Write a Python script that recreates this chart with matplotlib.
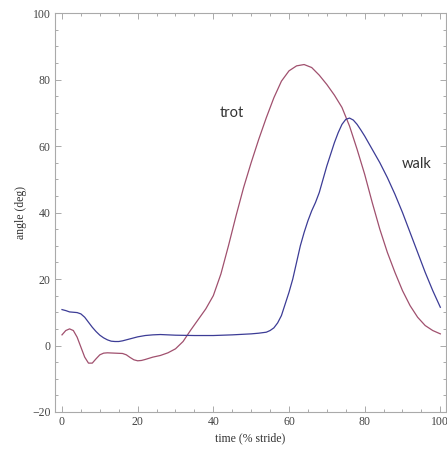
import matplotlib
matplotlib.use("Agg")
import matplotlib.pyplot as plt
from matplotlib.ticker import MultipleLocator

# ---- data ----
trot_x = [0, 1, 2, 3, 4, 5, 6, 7, 8, 9, 10, 11, 12, 14, 16, 17, 18, 19, 20, 21, 22, 24, 26, 28, 30,
          32, 34, 36, 38, 40, 42, 44, 46, 48, 50, 52, 54, 56, 58, 60, 62, 64, 66, 68, 70, 72, 74, 76,
          78, 80, 82, 84, 86, 88, 90, 92, 94, 96, 98, 100]
trot_y = [3.2, 4.5, 5.0, 4.5, 2.5, -0.5, -3.5, -5.3, -5.3, -4.0, -2.8, -2.3, -2.2, -2.3, -2.4, -2.8,
          -3.6, -4.3, -4.6, -4.5, -4.2, -3.5, -3.0, -2.2, -1.0, 1.2, 4.6, 7.8, 11.0, 15.0, 21.5, 30.0,
          39.0, 47.5, 55.0, 62.0, 68.5, 74.5, 79.5, 82.6, 84.1, 84.5, 83.6, 81.3, 78.5, 75.3, 71.6,
          66.0, 59.0, 51.5, 43.0, 35.0, 28.0, 22.0, 16.5, 12.0, 8.5, 6.0, 4.5, 3.5]

walk_x = [0, 1, 2, 3, 4, 5, 6, 7, 8, 9, 10, 11, 12, 13, 14, 15, 16, 18, 20, 22, 24, 26, 28, 30, 35,
          40, 45, 50, 52, 54, 55, 56, 57, 58, 59, 60, 61, 62, 63, 64, 65, 66, 67, 68, 69, 70, 71, 72,
          73, 74, 75, 76, 77, 78, 79, 80, 82, 84, 86, 88, 90, 92, 94, 96, 98, 100]
walk_y = [10.8, 10.5, 10.1, 10.0, 9.9, 9.5, 8.5, 7.0, 5.5, 4.2, 3.1, 2.3, 1.7, 1.3, 1.2, 1.2, 1.4,
          2.0, 2.6, 3.0, 3.2, 3.3, 3.2, 3.1, 3.0, 3.0, 3.2, 3.5, 3.7, 4.0, 4.5, 5.3, 6.8, 9.0, 12.5,
          16.0, 20.0, 25.0, 30.0, 34.0, 37.5, 40.5, 43.0, 46.0, 50.0, 54.0, 57.5, 61.0, 64.0, 66.5,
          68.0, 68.4, 67.8, 66.5, 64.8, 63.0, 59.0, 55.0, 50.5, 45.5, 40.0, 34.0, 28.0, 22.0, 16.5, 11.5]

x_ticks = [0, 20, 40, 60, 80, 100]
y_ticks = [-20, 0, 20, 40, 60, 80, 100]
y_tick_labels = ["\u221220", "0", "20", "40", "60", "80", "100"]

label_trot = "trot"
label_walk = "walk"

# ---- figure ----
fig = plt.figure(figsize=(4.47, 4.51), dpi=100)
ax = fig.add_axes([55 / 447, 1 - 412 / 451, (446 - 55) / 447, (412 - 13) / 451])

ax.plot(trot_x, trot_y, color="#a0506e", lw=0.9)
ax.plot(walk_x, walk_y, color="#3c3c96", lw=0.9)

ax.set_xlim(-1.85, 101.5)
ax.set_ylim(-20, 100)

ax.set_xticks(x_ticks)
ax.set_yticks(y_ticks)
ax.set_yticklabels(y_tick_labels)
ax.xaxis.set_minor_locator(MultipleLocator(5))
ax.yaxis.set_minor_locator(MultipleLocator(5))

serif = ["Liberation Serif", "DejaVu Serif"]
for lab in ax.get_xticklabels() + ax.get_yticklabels():
    lab.set_fontfamily(serif)
    lab.set_fontsize(8.5)
    lab.set_color("#444444")

ax.tick_params(which="both", direction="in", top=True, right=True, color="#aaaaaa", width=0.7)
ax.tick_params(which="major", length=4.5, pad=3)
ax.tick_params(which="minor", length=2.5)
ax.tick_params(axis="both", labelright=False, labeltop=False)
for sp in ax.spines.values():
    sp.set_color("#aaaaaa")
    sp.set_linewidth(0.8)

ax.set_xlabel("time (% stride)", family=serif, fontsize=8.5, color="#333333", labelpad=3)
ax.set_ylabel("angle (deg)", family=serif, fontsize=8.5, color="#333333", labelpad=4)

ax.text(44.9, 69.8, label_trot, family=["Lato", "DejaVu Sans"], fontsize=10.5, color="#333333",
        ha="center", va="center")
ax.text(93.8, 54.6, label_walk, family=["Lato", "DejaVu Sans"], fontsize=10.5, color="#333333",
        ha="center", va="center")

fig.savefig("out.png", dpi=100)
